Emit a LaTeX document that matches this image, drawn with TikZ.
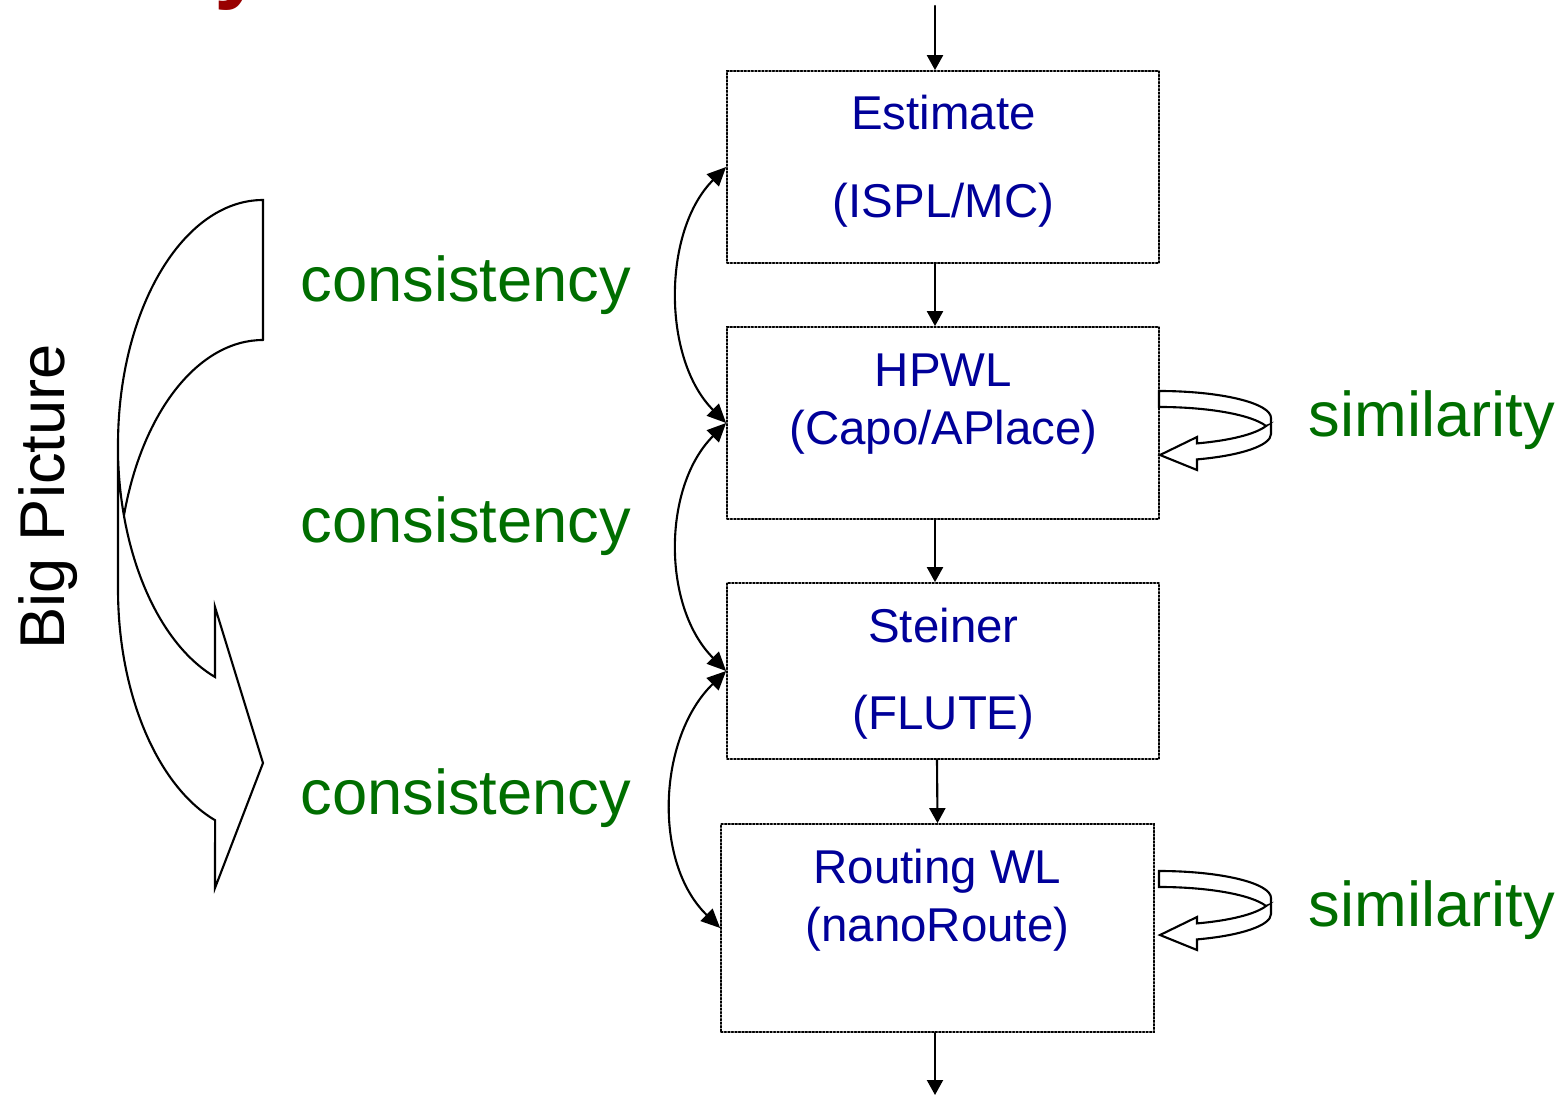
\documentclass[tikz,border=0pt]{standalone}
\usepackage{fontspec}
\setmainfont{Liberation Sans}
\usetikzlibrary{arrows.meta}

\definecolor{stageblue}{RGB}{0,0,153}
\definecolor{relgreen}{RGB}{0,110,0}
\definecolor{titlered}{RGB}{153,0,0}

\tikzset{
  stage/.style={draw, line width=0.5pt, dash pattern=on 0.5pt off 0.5pt, minimum width=4.32cm, inner sep=0pt},
  stagetext/.style={anchor=base, text=stageblue, font=\fontsize{13.5}{16}\selectfont},
  relation/.style={anchor=base west, inner sep=0pt, text=relgreen, font=\fontsize{18}{22}\selectfont},
  flow/.style={-{Triangle[length=0.15cm,width=0.16cm]}, line width=0.6pt},
  link/.style={{Triangle[length=0.19cm,width=0.17cm]}-{Triangle[length=0.19cm,width=0.17cm]}, line width=0.6pt},
  outline/.style={draw, fill=white, line width=0.6pt, line join=miter}
}

\begin{document}
\begin{tikzpicture}[line cap=round]
  \useasboundingbox (0,0) rectangle (15.67,-10.97);

  % tail of the heading above
  \begin{scope}
    \clip (0,0) rectangle (15.67,-10.97);
    \node[anchor=base west, inner sep=0pt, text=titlered, font=\bfseries\fontsize{26}{30}\selectfont] (head) at (2.14,0.08) {y};
  \end{scope}

  % estimation stages
  \node[stage, minimum height=1.92cm] (est) at (9.43,-1.67) {};
  \node[stage, minimum height=1.92cm] (hpwl) at (9.43,-4.23) {};
  \node[stage, minimum height=1.76cm] (steiner) at (9.43,-6.71) {};
  \node[stage, minimum width=4.33cm, minimum height=2.08cm] (route) at (9.375,-9.28) {};

  \node[stagetext] (estA) at (9.435,-1.30) {Estimate};
  \node[stagetext] (estB) at (9.435,-2.17) {(ISPL/MC)};
  \node[stagetext] (hpwlA) at (9.435,-3.86) {HPWL};
  \node[stagetext] (hpwlB) at (9.435,-4.45) {(Capo/APlace)};
  \node[stagetext] (steinerA) at (9.435,-6.42) {Steiner};
  \node[stagetext] (steinerB) at (9.435,-7.29) {(FLUTE)};
  \node[stagetext] (routeA) at (9.375,-8.83) {Routing WL};
  \node[stagetext] (routeB) at (9.375,-9.41) {(nanoRoute)};

  % main flow
  \coordinate (in) at (9.35,-0.06);
  \coordinate (out) at (9.35,-10.95);
  \draw[flow] (in) -- (in |- est.north);
  \draw[flow] ([xshift=-0.08cm]est.south) -- ([xshift=-0.08cm]hpwl.north);
  \draw[flow] ([xshift=-0.08cm]hpwl.south) -- ([xshift=-0.08cm]steiner.north);
  \draw[flow] ([xshift=-0.06cm]steiner.south) -- (route.north);
  \draw[flow] (route.south -| out) -- (out);

  % consistency between neighbours
  \draw[link] (est.west) .. controls +(-0.64,-0.64) and +(-0.64,0.64) .. (hpwl.west);
  \draw[link] (hpwl.west) .. controls +(-0.64,-0.64) and +(-0.64,0.64) .. (steiner.west);
  \draw[link] (steiner.west) .. controls +(-0.68,-0.66) and +(-0.68,0.66) .. (route.west);

  \node[relation] (cons1) at (3.00,-3.02) {consistency};
  \node[relation] (cons2) at (3.00,-5.42) {consistency};
  \node[relation] (cons3) at (3.00,-8.14) {consistency};

  % similarity loops
  \foreach \dy in {0,4.80} {
    \begin{scope}[yshift=-\dy cm]
      \draw[outline] (12.66,-4.26) arc[start angle=17.2, end angle=90, x radius=1.12, y radius=0.27]
        -- (11.59,-3.91) arc[start angle=90, end angle=0, x radius=1.12, y radius=0.27]
        -- (12.71,-4.34) arc[start angle=0, end angle=-70.2, x radius=1.12, y radius=0.27]
        -- (11.97,-4.70) -- (11.60,-4.55) -- (11.97,-4.37)
        -- (11.97,-4.434) arc[start angle=-70.2, end angle=-17.2, x radius=1.12, y radius=0.27]
        -- cycle;
    \end{scope}
  }
  \node[relation] (sim1) at (13.08,-4.37) {similarity};
  \node[relation] (sim2) at (13.08,-9.26) {similarity};

  % big picture arrow
  \draw[outline, fill=none] (2.63,-3.40) -- (2.63,-2.00)
    arc[start angle=90, end angle=180, x radius=1.45, y radius=2.45]
    -- (1.18,-5.89) arc[start angle=180, end angle=250.7, x radius=1.45, y radius=2.45]
    -- (2.15,-8.88) -- (2.63,-7.63) -- (2.15,-6.07)
    -- (2.15,-6.77) arc[start angle=250.7, end angle=180, x radius=1.45, y radius=2.45];
  \draw[line width=0.6pt] (2.63,-3.40) arc[start angle=90, end angle=163.4, x radius=1.45, y radius=2.45];

  \node[rotate=90, anchor=base, inner sep=0pt, font=\fontsize{18}{22}\selectfont] (big) at (0.65,-4.97) {Big Picture};
\end{tikzpicture}
\end{document}
